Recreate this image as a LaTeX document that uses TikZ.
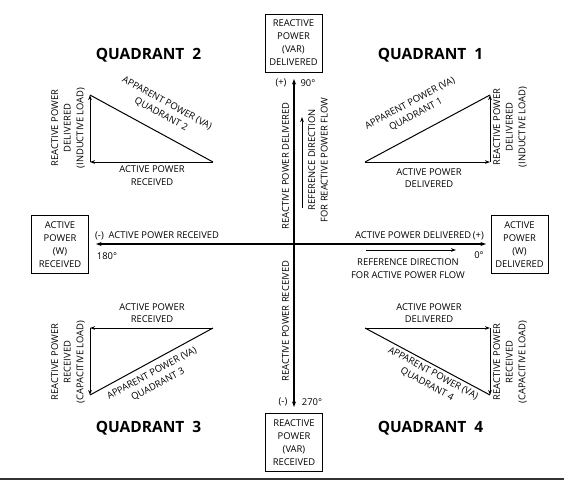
\documentclass[tikz,border=0pt]{standalone}
\usepackage{fontspec}
\setmainfont{Open Sans}
\usetikzlibrary{arrows.meta}
\begin{document}
\begin{tikzpicture}[x=1pt,y=-1pt,
  lbl/.style={font=\fontsize{9.4}{12.6}\selectfont,align=center,inner sep=0pt},
  quad/.style={font=\fontsize{15.5}{17}\selectfont\bfseries,inner sep=0pt},
  boxnode/.style={draw,line width=1pt,minimum width=57pt,minimum height=58pt,align=center,inner sep=0pt,font=\fontsize{9.4}{13}\selectfont},
  axis/.style={line width=1.1pt,-{Stealth[length=5.5pt,width=4pt]}},
  tri/.style={line width=1pt,-{Stealth[length=5pt,width=3.6pt]}},
  hyp/.style={line width=1pt}]
\useasboundingbox (0,0) rectangle (564,480);
% boxes
\node[boxnode] (top) at (293.5,43) {REACTIVE\\POWER\\(VAR)\\DELIVERED};
\node[boxnode] (bot) at (294,442.5) {REACTIVE\\POWER\\(VAR)\\RECEIVED};
\node[boxnode] (left) at (60,244.5) {ACTIVE\\POWER\\(W)\\RECEIVED};
\node[boxnode] (right) at (519.5,244.5) {ACTIVE\\POWER\\(W)\\DELIVERED};
% axes
\coordinate (O) at (294,244);
\coordinate (vt) at (294,79);
\coordinate (vb) at (294,407);
\coordinate (hl) at (96,244);
\coordinate (hr) at (486,244);
\draw[axis] (O) -- (vt);
\draw[axis] (O) -- (vb);
\draw[axis] (O) -- (hl);
\draw[axis] (O) -- (hr);
% axis labels
\node[lbl,anchor=west] (apr) at (95,236) {(-)\ \ ACTIVE POWER RECEIVED};
\node[lbl] (d180) at (107,256) {180°};
\node[lbl,anchor=east] (apd) at (484,236) {ACTIVE POWER DELIVERED\,(+)};
\node[lbl] (d0) at (479,255) {0°};
\node[lbl] (plus) at (281,83) {(+)};
\node[lbl] (d90) at (308,83) {90°};
\node[lbl] (minus) at (283,402) {(-)};
\node[lbl] (d270) at (312,402) {270°};
\node[lbl,rotate=90] (rpd) at (285.5,166) {REACTIVE POWER DELIVERED};
\node[lbl,rotate=90] (rpr) at (285.5,321) {REACTIVE POWER RECEIVED};
% reference directions
\coordinate (rha) at (366,250);
\coordinate (rhb) at (456,250);
\draw[tri] (rha) -- (rhb);
\node[lbl] (refa) at (408,268.5) {REFERENCE DIRECTION\\FOR ACTIVE POWER FLOW};
\coordinate (rva) at (302,208);
\coordinate (rvb) at (302,117);
\draw[tri] (rva) -- (rvb);
\node[lbl,rotate=90] (refr) at (318,160) {REFERENCE DIRECTION\\FOR REACTIVE POWER FLOW};
% quadrant titles
\node[quad] (q2) at (148.5,55) {QUADRANT\hspace{8pt}2};
\node[quad] (q1) at (430.5,55) {QUADRANT\hspace{8pt}1};
\node[quad] (q3) at (148.5,428) {QUADRANT\hspace{8pt}3};
\node[quad] (q4) at (430.5,428) {QUADRANT\hspace{8pt}4};
% Q2 triangle
\coordinate (a2) at (213,162);
\coordinate (b2) at (90,162);
\coordinate (c2) at (90,95);
\draw[tri] (a2) -- (b2);
\draw[tri] (b2) -- (c2);
\draw[hyp] (c2) -- (a2);
\node[lbl] (t2a) at (152,175.5) {ACTIVE POWER\\RECEIVED};
\node[lbl,rotate=90] (t2r) at (68,128) {REACTIVE POWER\\DELIVERED\\(INDUCTIVE LOAD)};
\node[lbl,rotate=-28.6] (t2h) at (164,109) {APPARENT POWER (VA)\\QUADRANT 2};
% Q1 triangle
\coordinate (a1) at (365,162);
\coordinate (b1) at (490,162);
\coordinate (c1) at (490,95);
\draw[tri] (a1) -- (b1);
\draw[tri] (b1) -- (c1);
\draw[hyp] (a1) -- (c1);
\node[lbl] (t1a) at (429,178) {ACTIVE POWER\\DELIVERED};
\node[lbl,rotate=90] (t1r) at (510,127) {REACTIVE POWER\\DELIVERED\\(INDUCTIVE LOAD)};
\node[lbl,rotate=28.2] (t1h) at (413,109) {APPARENT POWER (VA)\\QUADRANT 1};
% Q3 triangle
\coordinate (a3) at (213,328);
\coordinate (b3) at (90,328);
\coordinate (c3) at (90,395);
\draw[tri] (a3) -- (b3);
\draw[tri] (b3) -- (c3);
\draw[hyp] (c3) -- (a3);
\node[lbl] (t3a) at (152,313) {ACTIVE POWER\\RECEIVED};
\node[lbl,rotate=90] (t3r) at (68,362) {REACTIVE POWER\\RECEIVED\\(CAPACITIVE LOAD)};
\node[lbl,rotate=28.4] (t3h) at (155,379) {APPARENT POWER (VA)\\QUADRANT 3};
% Q4 triangle
\coordinate (a4) at (365,328);
\coordinate (b4) at (490,328);
\coordinate (c4) at (490,395);
\draw[tri] (a4) -- (b4);
\draw[tri] (b4) -- (c4);
\draw[hyp] (a4) -- (c4);
\node[lbl] (t4a) at (429,313) {ACTIVE POWER\\DELIVERED};
\node[lbl,rotate=90] (t4r) at (510,362) {REACTIVE POWER\\RECEIVED\\(CAPACITIVE LOAD)};
\node[lbl,rotate=-28.2] (t4h) at (430,379) {APPARENT POWER (VA)\\QUADRANT 4};
% bottom rule
\coordinate (bl) at (0,478.8);
\coordinate (br) at (564,478.8);
\draw[line width=1.8pt,black!80] (bl) -- (br);
\end{tikzpicture}
\end{document}
